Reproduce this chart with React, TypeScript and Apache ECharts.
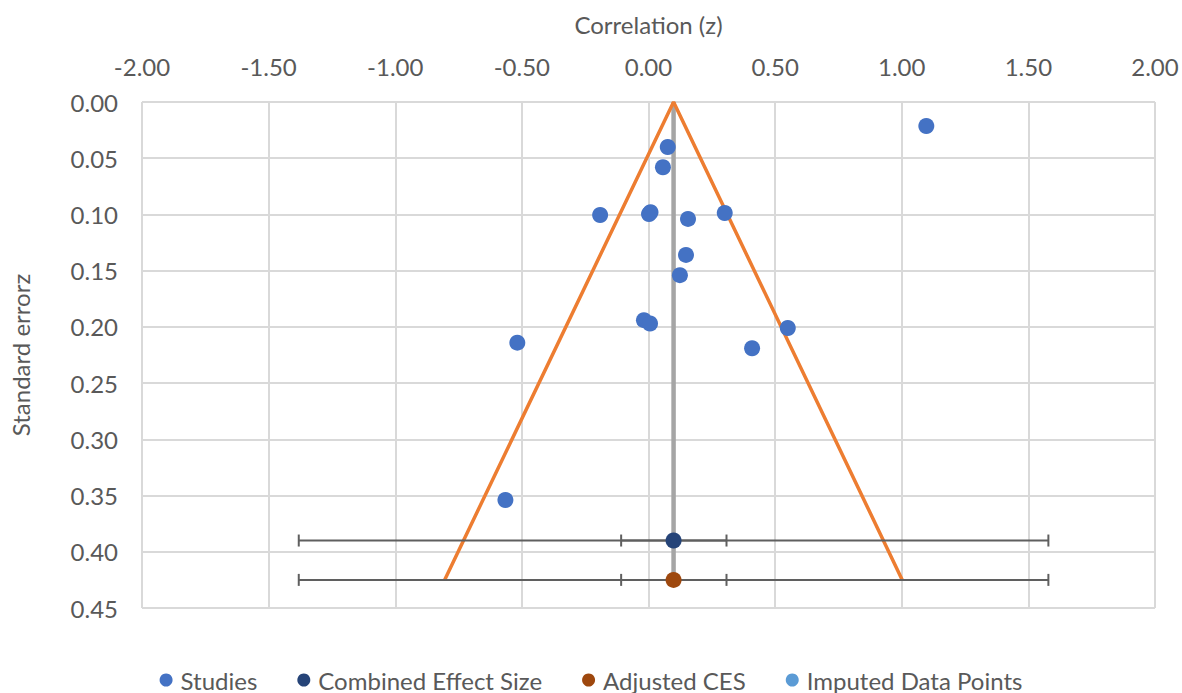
import React, { useEffect, useRef } from "react";
import * as echarts from "echarts";

const studiesZ = [1.097, 0.076, 0.057, -0.191, 0.002, 0.008, 0.301, 0.156, 0.148, 0.124, -0.018, 0.006, 0.55, 0.409, -0.518, -0.565];
const studiesSE = [0.0213, 0.040, 0.058, 0.1005, 0.0996, 0.098, 0.0987, 0.104, 0.136, 0.154, 0.194, 0.197, 0.201, 0.219, 0.214, 0.354];
const combined = [0.099, 0.39];
const adjusted = [0.099, 0.425];
const imputed: number[][] = [];
const funnelZ = [-0.805, 0.099, 1.002];
const funnelSE = [0.425, 0, 0.425];
const refLineZ = [0.099, 0.099];
const refLineSE = [0, 0.425];
// error bars: [se, low, high]
const errorBars = [
  [0.39, -1.381, 1.579],
  [0.39, -0.108, 0.308],
  [0.425, -1.381, 1.579],
  [0.425, -0.108, 0.308],
];
const xTicks = { min: -2, max: 2, step: 0.5 };
const yTicks = { min: 0, max: 0.45, step: 0.05 };

const FONT = "Lato";
const TXT = "#595959";
const FS = 24;

export default function App() {
  const ref = useRef<HTMLDivElement>(null);
  useEffect(() => {
    const chart = echarts.init(ref.current!, null, { renderer: "svg" });
    chart.setOption({
      animation: false,
      backgroundColor: "#ffffff",
      textStyle: { fontFamily: FONT },
      grid: { left: 140, right: 27, top: 102, bottom: 85 },
      legend: {
        data: ["Studies", "Combined Effect Size", "Adjusted CES", "Imputed Data Points"],
        left: "center",
        top: 668,
        padding: 0,
        icon: "circle",
        itemWidth: 13,
        itemHeight: 13,
        itemGap: 40,
        textStyle: { color: TXT, fontSize: FS, fontFamily: FONT, padding: [0, 0, 0, 3] },
      },
      xAxis: {
        type: "value",
        position: "top",
        min: xTicks.min,
        max: xTicks.max,
        interval: xTicks.step,
        name: "Correlation (z)",
        nameLocation: "middle",
        nameGap: 66,
        nameTextStyle: { color: TXT, fontSize: FS, fontFamily: FONT },
        axisLine: { show: false },
        axisTick: { show: false },
        axisLabel: { color: TXT, fontSize: FS, margin: 24, formatter: (v: number) => v.toFixed(2), fontFamily: FONT },
        splitLine: { show: true, lineStyle: { color: "#D9D9D9", width: 2 } },
      },
      yAxis: {
        type: "value",
        inverse: true,
        min: yTicks.min,
        max: yTicks.max,
        interval: yTicks.step,
        name: "Standard errorz",
        nameLocation: "middle",
        nameGap: 110,
        nameRotate: 90,
        nameTextStyle: { color: TXT, fontSize: FS, fontFamily: FONT },
        axisLine: { show: false },
        axisTick: { show: false },
        axisLabel: { color: TXT, fontSize: FS, margin: 24, formatter: (v: number) => v.toFixed(2), fontFamily: FONT },
        splitLine: { show: true, lineStyle: { color: "#D9D9D9", width: 2 } },
      },
      series: [
        {
          name: "ref",
          type: "line",
          data: refLineZ.map((z, i) => [z, refLineSE[i]]),
          symbol: "none",
          lineStyle: { color: "#A5A5A5", width: 4.5 },
          z: 1,
          silent: true,
        },
        {
          name: "funnel",
          type: "line",
          data: funnelZ.map((z, i) => [z, funnelSE[i]]),
          symbol: "none",
          lineStyle: { color: "#ED7D31", width: 3.5 },
          z: 2,
          silent: true,
        },
        {
          name: "errors",
          type: "custom",
          z: 3,
          silent: true,
          data: errorBars,
          renderItem: (params: any, api: any) => {
            const se = api.value(0);
            const p1 = api.coord([api.value(1), se]);
            const p2 = api.coord([api.value(2), se]);
            const h = 6;
            const style = { stroke: "#5F5F5F", lineWidth: 2 };
            return {
              type: "group",
              children: [
                { type: "line", shape: { x1: p1[0], y1: p1[1], x2: p2[0], y2: p2[1] }, style },
                { type: "line", shape: { x1: p1[0], y1: p1[1] - h, x2: p1[0], y2: p1[1] + h }, style },
                { type: "line", shape: { x1: p2[0], y1: p2[1] - h, x2: p2[0], y2: p2[1] + h }, style },
              ],
            };
          },
        },
        {
          name: "Studies",
          type: "scatter",
          data: studiesZ.map((z, i) => [z, studiesSE[i]]),
          symbolSize: 16,
          itemStyle: { color: "#4472C4", opacity: 1 },
          z: 4,
        },
        {
          name: "Combined Effect Size",
          type: "scatter",
          data: [combined],
          symbolSize: 16,
          itemStyle: { color: "#264478", opacity: 1 },
          z: 4,
        },
        {
          name: "Adjusted CES",
          type: "scatter",
          data: [adjusted],
          symbolSize: 16,
          itemStyle: { color: "#9E480E", opacity: 1 },
          z: 4,
        },
        {
          name: "Imputed Data Points",
          type: "scatter",
          data: imputed,
          symbolSize: 16,
          itemStyle: { color: "#5B9BD5", opacity: 1 },
          z: 4,
        },
      ],
    });
    return () => chart.dispose();
  }, []);
  return <div ref={ref} style={{ position: "fixed", left: 0, top: 0, width: 1182, height: 693 }} />;
}
